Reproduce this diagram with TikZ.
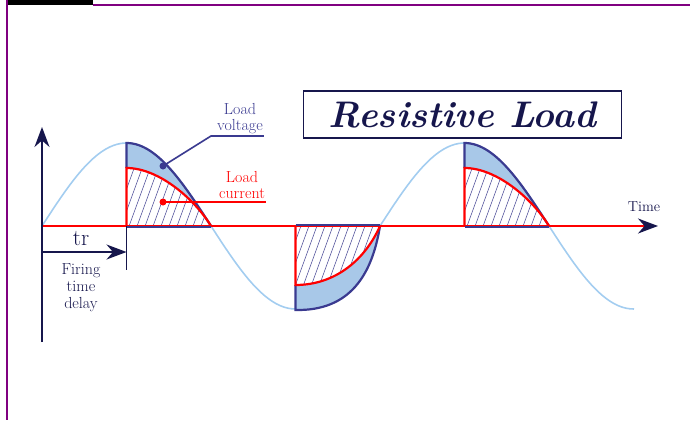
\documentclass[tikz,border=0pt]{standalone}
\usepackage{fontspec}
\usepackage{xcolor}
\usepackage{tikz}
\usetikzlibrary{arrows.meta,positioning}
\definecolor{frame}{HTML}{800080}
\definecolor{navy}{HTML}{16164C}
\definecolor{volt}{HTML}{3A3A90}
\definecolor{vfill}{HTML}{A8C8E8}
\definecolor{sine}{HTML}{A3CDF0}
\definecolor{cur}{HTML}{FF0000}
\definecolor{hatchc}{HTML}{5A5AA0}
\tikzset{
  axis/.style={line width=1.8pt,color=navy},
  tip/.style={-{Stealth[length=20pt,width=15pt,color=navy]}},
  wave/.style={line width=1.6pt,color=sine},
  vline/.style={line width=2.2pt,color=volt},
  cline/.style={line width=2.2pt,color=cur},
  hatch/.style={line width=0.6pt,color=hatchc},
  lbl/.style={font=\fontsize{16}{16}\selectfont,align=center,inner sep=1pt},
  dot/.style={circle,fill=#1,minimum size=7pt,inner sep=0pt},
  titlebox/.style={draw=navy,line width=1.8pt,text=navy,minimum width=318pt,minimum height=47pt,font=\fontsize{37}{40}\selectfont\bfseries\itshape},
}
\newcommand{\wave}[1]{226-83*sin(((#1)-42)/338*360)}
\begin{document}
\begin{tikzpicture}[x=1pt,y=-1pt]
  \useasboundingbox (0,0) rectangle (690,420);
  % frame
  \fill[black] (6,0) rectangle (93,5);
  \draw[frame,line width=2pt] (93,5) -- (690,5);
  \draw[frame,line width=2pt] (7,0) -- (7,420);
  % supply voltage
  \draw[wave] plot[domain=42:634,samples=150] (\x,{\wave{\x}});
  % positive pulses
  \foreach \s in {0,338} {
    \begin{scope}[shift={(\s,0)}]
      \fill[vfill] (126.5,226) -- plot[domain=126.5:211,samples=30] (\x,{\wave{\x}}) -- cycle;
      \fill[white] (126.5,226) -- (126.5,168) .. controls (160,168) and (196,201) .. (211,226) -- cycle;
      \begin{scope}
        \clip (126.5,226) -- (126.5,168) .. controls (160,168) and (196,201) .. (211,226) -- cycle;
        \foreach \k in {0,...,14} \draw[hatch] (92+\k*8,240) -- ++(40,-110);
      \end{scope}
      \draw[vline] (126.5,168) -- plot[domain=126.5:211,samples=30] (\x,{\wave{\x}});
    \end{scope}
  }
  % negative pulse
  \fill[vfill] (295.5,226) -- (295.5,310) .. controls (350,311) and (372,275) .. (380,226) -- cycle;
  \fill[white] (295.5,226) -- (295.5,285) .. controls (335,285) and (365,260) .. (380,226) -- cycle;
  \begin{scope}
    \clip (295.5,226) -- (295.5,285) .. controls (335,285) and (365,260) .. (380,226) -- cycle;
    \foreach \k in {0,...,14} \draw[hatch] (250+\k*8,300) -- ++(40,-110);
  \end{scope}
  \draw[vline] (295.5,285) -- (295.5,310) .. controls (350,311) and (372,275) .. (380,226);
  % axes
  \coordinate (o) at (42,226);
  \coordinate (tend) at (658,226);
  \coordinate (ytop) at (42,127);
  \coordinate (ybot) at (42,342);
  \draw[cline,line width=1.8pt,tip] (o) -- (tend);
  \draw[axis,tip] (ybot) -- (ytop);
  \node[font=\fontsize{14.5}{16}\selectfont,text=navy] (time) at (644,207) {Time};
  % load current edges
  \foreach \s in {0,338} {
    \begin{scope}[shift={(\s,0)}]
      \draw[cline] (126.5,226) -- (126.5,168) .. controls (160,168) and (196,201) .. (211,226);
      \draw[vline,line width=1.8pt] (126.5,227) -- (211,227);
    \end{scope}
  }
  \draw[cline] (295.5,226) -- (295.5,285) .. controls (335,285) and (365,260) .. (380,226);
  \draw[vline,line width=1.8pt] (295.5,225) -- (380,225);
  % firing delay
  \coordinate (fire) at (126.5,226);
  \coordinate (tick) at (126.5,270);
  \draw[axis,line width=1.2pt] (fire) -- (tick);
  \coordinate (tra) at (42,252);
  \coordinate (trb) at (126.5,252);
  \draw[axis,line width=1.5pt,tip] (tra) -- (trb);
  \node[text=navy,font=\fontsize{23}{24}\selectfont,inner sep=0pt] (tr) at (81,239) {tr};
  \node[lbl,text=navy,anchor=north,inner sep=0pt,font=\fontsize{16}{17}\selectfont] (delay) at (81,263) {Firing\\time\\delay};
  % labels
  \node[dot=volt] (vdot) at (163,166) {};
  \node[lbl,text=volt,anchor=south] (lv) at (240,135) {Load\\voltage};
  \coordinate (vk) at (211,136);
  \draw[vline,line width=1.6pt] (vdot) -- (vk) -- (vk -| lv.south east);
  \node[dot=cur] (cdot) at (163,202) {};
  \node[lbl,text=cur,anchor=south] (lc) at (242,200) {Load\\current};
  \draw[cline,line width=2.6pt] (cdot.center) -- (cdot -| lc.south east);
  % title
  \node[titlebox] (title) at (462.5,114.5) {Resistive\ Load};
\end{tikzpicture}
\end{document}
